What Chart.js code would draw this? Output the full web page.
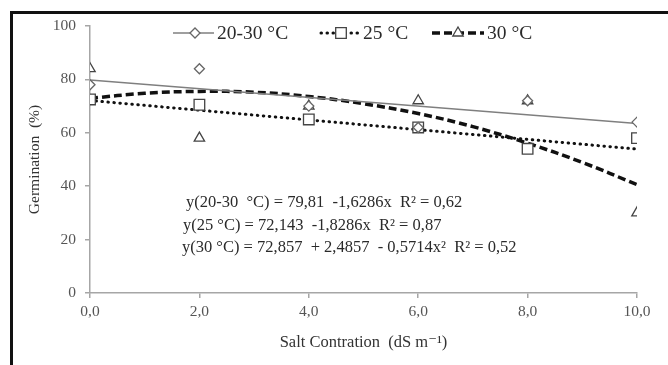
<!DOCTYPE html>
<html>
<head>
<meta charset="utf-8">
<script src="https://cdn.jsdelivr.net/npm/chart.js@4/dist/chart.umd.min.js"></script>
<style>
	body { margin: 0; background: #fff; }
	#wrap { position: relative; width: 668px; height: 365px; overflow: hidden; }
	#frame {
		position: absolute; left: 10px; top: 11px; width: 700px; height: 400px;
		border-left: 3px solid #111; border-top: 3px solid #111; pointer-events: none;
	}
</style>
</head>
<body>
<div id="wrap">
	<canvas id="germination" width="668" height="365"></canvas>
	<div id="frame"></div>
</div>
<script>
const salinity = [0, 2, 4, 6, 8, 10];
const xTickLabels = ["0,0", "2,0", "4,0", "6,0", "8,0", "10,0"];
const yTicks = [0, 20, 40, 60, 80, 100];

// observed germination (%)
const germ2030 = [78, 84, 70, 62, 72, 64];
const germ25 = [72.5, 70.5, 65, 62, 54, 58];
const germ30 = [84, 58, 70, 72, 72, 30];

// fitted curves
const trendLinearX = [0, 10];
const trend2030 = [79.8, 63.5];
const trend25 = [72.1, 53.9];
const trend30X = [0, 1, 2, 3, 4, 5, 6, 7, 8, 9, 10];
const trend30 = [72.9, 74.8, 75.5, 75.2, 73.6, 70.9, 67.2, 62.3, 56.1, 48.9, 40.6];

const legendLabels = ["20-30 °C", "25 °C", "30 °C"];
const equations = [
	"y(20-30  °C) = 79,81  -1,6286x  R² = 0,62",
	"y(25 °C) = 72,143  -1,8286x  R² = 0,87",
	"y(30 °C) = 72,857  + 2,4857  - 0,5714x²  R² = 0,52",
];

const serif = "'Liberation Serif', 'DejaVu Serif', serif";

function toPoints(xs, ys) {
	return xs.map((x, i) => ({ x: x, y: ys[i] }));
}

function drawMarker(ctx, style, x, y, r, color) {
	ctx.save();
	ctx.beginPath();
	if (style === "rectRot") {
		ctx.moveTo(x - r, y);
		ctx.lineTo(x, y - r);
		ctx.lineTo(x + r, y);
		ctx.lineTo(x, y + r);
	} else if (style === "rect") {
		const s = r * Math.SQRT1_2;
		ctx.rect(x - s, y - s, 2 * s, 2 * s);
	} else {
		ctx.moveTo(x, y - r);
		ctx.lineTo(x + Math.sin(2 * Math.PI / 3) * r, y + r / 2);
		ctx.lineTo(x - Math.sin(2 * Math.PI / 3) * r, y + r / 2);
	}
	ctx.closePath();
	ctx.fillStyle = "#fff";
	ctx.fill();
	ctx.lineWidth = 1.3;
	ctx.strokeStyle = color;
	ctx.stroke();
	ctx.restore();
}

const annotations = {
	id: "annotations",
	afterDraw(chart) {
		const ctx = chart.ctx;
		const items = [
			{ x1: 173, x2: 214, mx: 195, dash: [], width: 1.5, color: "#7f7f7f", cap: "butt", marker: "rectRot", r: 5, mcolor: "#666", tx: 217 },
			{ x1: 321, x2: 361, mx: 341, dash: [0.5, 5.5], width: 3, color: "#111", cap: "round", marker: "rect", r: 7.5, mcolor: "#444", tx: 363 },
			{ x1: 432, x2: 484, mx: 458, dash: [8, 4], width: 3.5, color: "#111", cap: "butt", marker: "triangle", r: 6, mcolor: "#444", tx: 487 },
		];
		ctx.save();
		items.forEach((it, i) => {
			ctx.beginPath();
			ctx.setLineDash(it.dash);
			ctx.lineCap = it.cap;
			ctx.lineWidth = it.width;
			ctx.strokeStyle = it.color;
			ctx.moveTo(it.x1, 33);
			ctx.lineTo(it.x2, 33);
			ctx.stroke();
			ctx.setLineDash([]);
			drawMarker(ctx, it.marker, it.mx, 33, it.r, it.mcolor);
			ctx.font = "19.5px " + serif;
			ctx.fillStyle = "#2a2a2a";
			ctx.textBaseline = "middle";
			ctx.textAlign = "left";
			ctx.fillText(legendLabels[i], it.tx, 34);
		});

		ctx.font = "16.5px " + serif;
		ctx.fillStyle = "#2a2a2a";
		ctx.textBaseline = "middle";
		ctx.fillText(equations[0], 186, 203);
		ctx.fillText(equations[1], 183, 226);
		ctx.fillText(equations[2], 182, 248);
		ctx.restore();
	},
};

const axisStyle = {
	grid: { drawOnChartArea: false, drawTicks: true, tickLength: 5, color: "#a6a6a6", lineWidth: 1.5 },
	border: { color: "#a6a6a6", width: 1.5 },
};

new Chart(document.getElementById("germination"), {
	type: "scatter",
	data: {
		datasets: [
			{
				label: "20-30 °C",
				data: toPoints(salinity, germ2030),
				pointStyle: "rectRot",
				pointRadius: 5,
				pointBorderColor: "#666",
				pointBackgroundColor: "#fff",
				pointBorderWidth: 1.3,
				order: 0,
			},
			{
				label: "25 °C",
				data: toPoints(salinity, germ25),
				pointStyle: "rect",
				pointRadius: 7.5,
				pointBorderColor: "#444",
				pointBackgroundColor: "#fff",
				pointBorderWidth: 1.3,
				order: 0,
			},
			{
				label: "30 °C",
				data: toPoints(salinity, germ30),
				pointStyle: "triangle",
				pointRadius: 6,
				pointBorderColor: "#444",
				pointBackgroundColor: "#fff",
				pointBorderWidth: 1.3,
				order: 0,
			},
			{
				label: "fit 20-30",
				data: toPoints(trendLinearX, trend2030),
				showLine: true,
				borderColor: "#7f7f7f",
				borderWidth: 1.5,
				pointRadius: 0,
				order: 1,
			},
			{
				label: "fit 25",
				data: toPoints(trendLinearX, trend25),
				showLine: true,
				borderColor: "#111",
				borderWidth: 3,
				borderDash: [0.5, 5.5],
				borderCapStyle: "round",
				pointRadius: 0,
				order: 1,
			},
			{
				label: "fit 30",
				data: toPoints(trend30X, trend30),
				showLine: true,
				borderColor: "#111",
				borderWidth: 3.5,
				borderDash: [8, 4],
				tension: 0.4,
				pointRadius: 0,
				order: 1,
			},
		],
	},
	options: {
		responsive: false,
		animation: false,
		devicePixelRatio: 1,
		layout: { padding: { left: 12, right: 31, top: 26, bottom: 8 } },
		plugins: { legend: { display: false }, tooltip: { enabled: false } },
		scales: {
			x: {
				type: "linear",
				min: 0,
				max: 10,
				afterBuildTicks(scale) {
					scale.ticks = salinity.map((v) => ({ value: v }));
				},
				afterFit(scale) {
					scale.height = 64;
				},
				ticks: {
					callback: (v) => xTickLabels[salinity.indexOf(v)],
					font: { family: serif, size: 15.5 },
					color: "#555",
					padding: 5,
					maxRotation: 0,
				},
				title: {
					display: true,
					text: "Salt Contration  (dS m⁻¹)",
					font: { family: serif, size: 16.5 },
					color: "#333",
					padding: { top: 16 },
				},
				...axisStyle,
			},
			y: {
				min: 0,
				max: 100,
				afterBuildTicks(scale) {
					scale.ticks = yTicks.map((v) => ({ value: v }));
				},
				afterFit(scale) {
					scale.width = 78;
				},
				ticks: {
					font: { family: serif, size: 15.5 },
					color: "#555",
					padding: 9,
				},
				title: {
					display: true,
					text: "Germination  (%)",
					font: { family: serif, size: 15.5 },
					color: "#333",
					padding: { top: 14, bottom: 0 },
				},
				...axisStyle,
			},
		},
	},
	plugins: [annotations],
});
</script>
</body>
</html>
